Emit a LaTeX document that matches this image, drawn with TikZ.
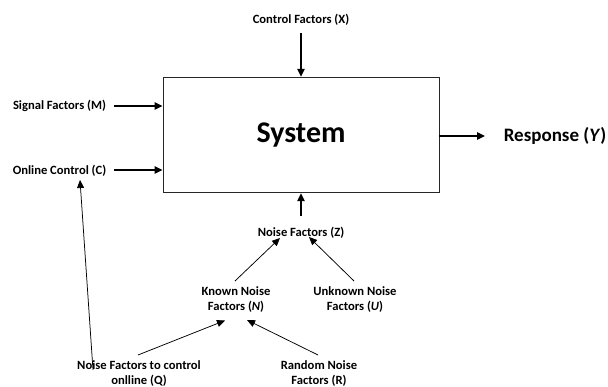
\documentclass[tikz,border=0pt]{standalone}
\usepackage{fontspec}
\setmainfont{Carlito}
\usetikzlibrary{arrows.meta}
\begin{document}
\begin{tikzpicture}[x=1pt,y=-1pt,
  lbl/.style={font=\bfseries\fontsize{12.6}{15}\selectfont, inner sep=1pt, align=center},
  arr/.style={draw, line width=1.2pt, -{Triangle[length=8pt,width=7.5pt]}},
  thin/.style={draw, line width=0.75pt, -{Triangle[length=8pt,width=7pt]}}]
\useasboundingbox (0,0) rectangle (608,387);
% system box
\node[draw=black!85, line width=0.9pt, minimum width=276pt, minimum height=115.5pt, inner sep=0pt,
      font=\bfseries\fontsize{30}{33}\selectfont] (box) at (301,135) {System};
% labels
\node[lbl] (ctrl) at (301,20) {Control Factors (X)};
\node[lbl] (sig) at (59.5,106) {Signal Factors (M)};
\node[lbl] (onl) at (59.5,170.5) {Online Control (C)};
\node[lbl, font=\bfseries\fontsize{19}{22}\selectfont] (resp) at (555,136) {Response (\textit{Y})};
\node[lbl] (nz) at (301,233) {Noise Factors (Z)};
\node[lbl] (kn) at (236,300) {Known Noise\\Factors (\textit{N})};
\node[lbl] (un) at (355,300) {Unknown Noise\\Factors (\textit{U})};
\node[lbl] (q) at (139,374) {Noise Factors to control\\onlline (Q)};
\node[lbl] (r) at (319,374) {Random Noise\\Factors (R)};
% coordinates for free ends
\coordinate (ctop) at (301,33);
\coordinate (zbot) at (301,216.5);
\coordinate (sigE) at (114,106);
\coordinate (onlE) at (114,170);
\coordinate (respS) at (439,136);
\coordinate (respE) at (485,136);
\coordinate (knA) at (235,281);
\coordinate (knB) at (280,238);
\coordinate (unA) at (354,281);
\coordinate (unB) at (309,237);
\coordinate (qA) at (138,355);
\coordinate (qB) at (225,320.5);
\coordinate (rA) at (318,355);
\coordinate (rB) at (247,320);
\coordinate (qL) at (93,370);
\coordinate (qT) at (80,180);
% connectors
\draw[arr] (ctop) -- (box.north);
\draw[arr] (zbot) -- (box.south);
\draw[arr] (sigE) -- (box.west |- sigE);
\draw[arr] (onlE) -- (box.west |- onlE);
\draw[arr] (box.east |- respS) -- (respE);
\draw[thin] (knA) -- (knB);
\draw[thin] (unA) -- (unB);
\draw[thin] (qA) -- (qB);
\draw[thin] (rA) -- (rB);
\draw[thin] (qL) -- (qT);
\end{tikzpicture}
\end{document}
